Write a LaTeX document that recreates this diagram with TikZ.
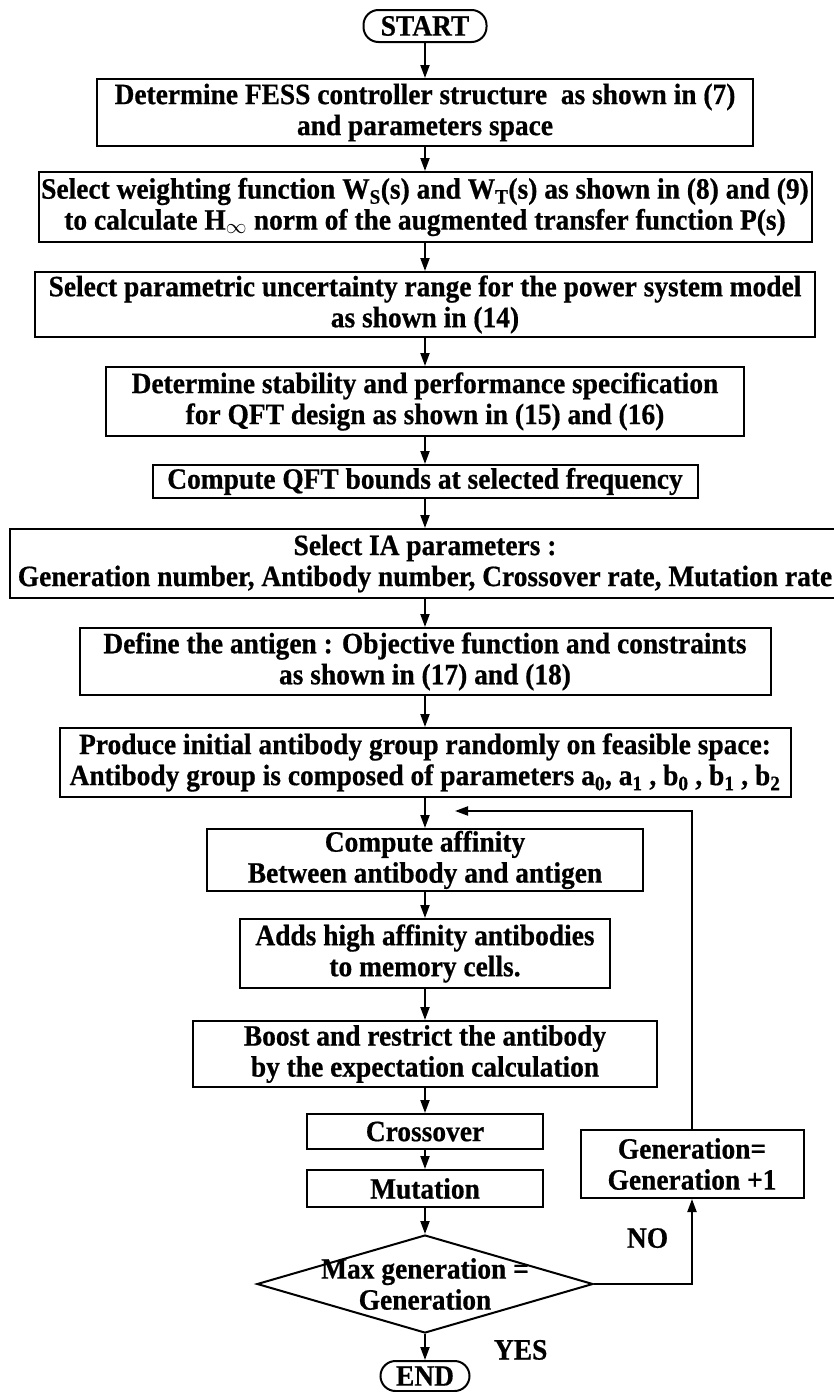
\documentclass[tikz,border=0pt]{standalone}
\usepackage{fontspec}
\setmainfont{Liberation Serif}[FakeStretch=0.93, BoldFeatures={FakeBold=0.6}]
\usetikzlibrary{shapes.geometric, arrows.meta, positioning}

\begin{document}
\begin{tikzpicture}[x=1pt, y=1pt, on grid, line width=2pt,
        >={Triangle[length=13pt, width=9pt]},
        every node/.style={font=\fontsize{29.5}{31}\selectfont\bfseries, align=center, inner sep=0pt},
        box/.style={draw, rectangle},
        term/.style={draw, rectangle, rounded corners=15pt},
        cond/.style={draw, diamond, minimum width=336pt, minimum height=98pt}]
        \useasboundingbox (0,0) rectangle (834,-1392);

        \node[term, minimum width=123pt, minimum height=32pt] (start) at (425,-26) {START};
        \node[box, minimum width=656pt, minimum height=67pt] (b1) [below=86.5pt of start]
            {Determine FESS controller structure\ \ as shown in (7)\\and parameters space};
        \node[box, minimum width=773pt, minimum height=70pt] (b2) [below=94.5pt of b1]
            {Select weighting function W\textsubscript{S}(s) and W\textsubscript{T}(s) as shown in (8) and (9)\\
             to calculate H\textsubscript{$\infty$} norm of the augmented transfer function P(s)};
        \node[box, minimum width=780pt, minimum height=65pt] (b3) [below=97.5pt of b2]
            {Select parametric uncertainty range for the power system model\\as shown in (14)};
        \node[box, minimum width=638pt, minimum height=69pt] (b4) [below=97pt of b3]
            {Determine stability and performance specification\\for QFT design as shown in (15) and (16)};
        \node[box, minimum width=545pt, minimum height=33pt] (b5) [below=80pt of b4]
            {Compute QFT bounds at selected frequency};
        \node[box, minimum width=830pt, minimum height=69pt] (b6) [below=82pt of b5]
            {Select IA parameters :\\Generation number, Antibody number, Crossover rate, Mutation rate};
        \node[box, minimum width=691pt, minimum height=67pt] (b7) [below=98pt of b6]
            {Define the antigen : Objective function and constraints\\as shown in (17) and (18)};
        \node[box, minimum width=731pt, minimum height=69pt] (b8) [below=101pt of b7]
            {Produce initial antibody group randomly on feasible space:\\
             Antibody group is composed of parameters a\textsubscript{0}, a\textsubscript{1} , b\textsubscript{0} , b\textsubscript{1} , b\textsubscript{2}};
        \node[box, minimum width=436pt, minimum height=62pt] (b9) [below=97.5pt of b8]
            {Compute affinity\\Between antibody and antigen};
        \node[box, minimum width=370pt, minimum height=69pt] (b10) [below=93.5pt of b9]
            {Adds high affinity antibodies\\to memory cells.};
        \node[box, minimum width=464pt, minimum height=66pt] (b11) [below=100.5pt of b10]
            {Boost and restrict the antibody\\by the expectation calculation};
        \node[box, minimum width=236pt, minimum height=35pt] (cross) [below=77.5pt of b11] {Crossover};
        \node[box, minimum width=236pt, minimum height=37pt] (mut) [below=57pt of cross] {Mutation};
        \node[cond, label={[align=center]center:Max generation =\\Generation}] (dia) [below=95.5pt of mut] {};
        \node[term, minimum width=89pt, minimum height=30pt] (end) [below=92pt of dia] {END};
        \node[box, minimum width=223pt, minimum height=68pt] (gen) [above right=24.5pt and 267pt of mut]
            {Generation=\\Generation +1};

        \node (no) [above right=35pt and 32pt of dia.east] {NO};
        \node (yes) [below right=5pt and 68pt of dia.south] {YES};
        \coordinate[below right=13pt and 30pt of b8.south] (loopend);

        \path[->]
        (start) edge (b1)
        (b1) edge (b2)
        (b2) edge (b3)
        (b3) edge (b4)
        (b4) edge (b5)
        (b5) edge (b6)
        (b6) edge (b7)
        (b7) edge (b8)
        (b8) edge (b9)
        (b9) edge (b10)
        (b10) edge (b11)
        (b11) edge (cross)
        (cross) edge (mut)
        (mut) edge (dia)
        (dia) edge (end);

        \draw[->] (dia.east) -| (gen.south);
        \draw[->] (gen.north) |- (loopend);
\end{tikzpicture}
\end{document}
